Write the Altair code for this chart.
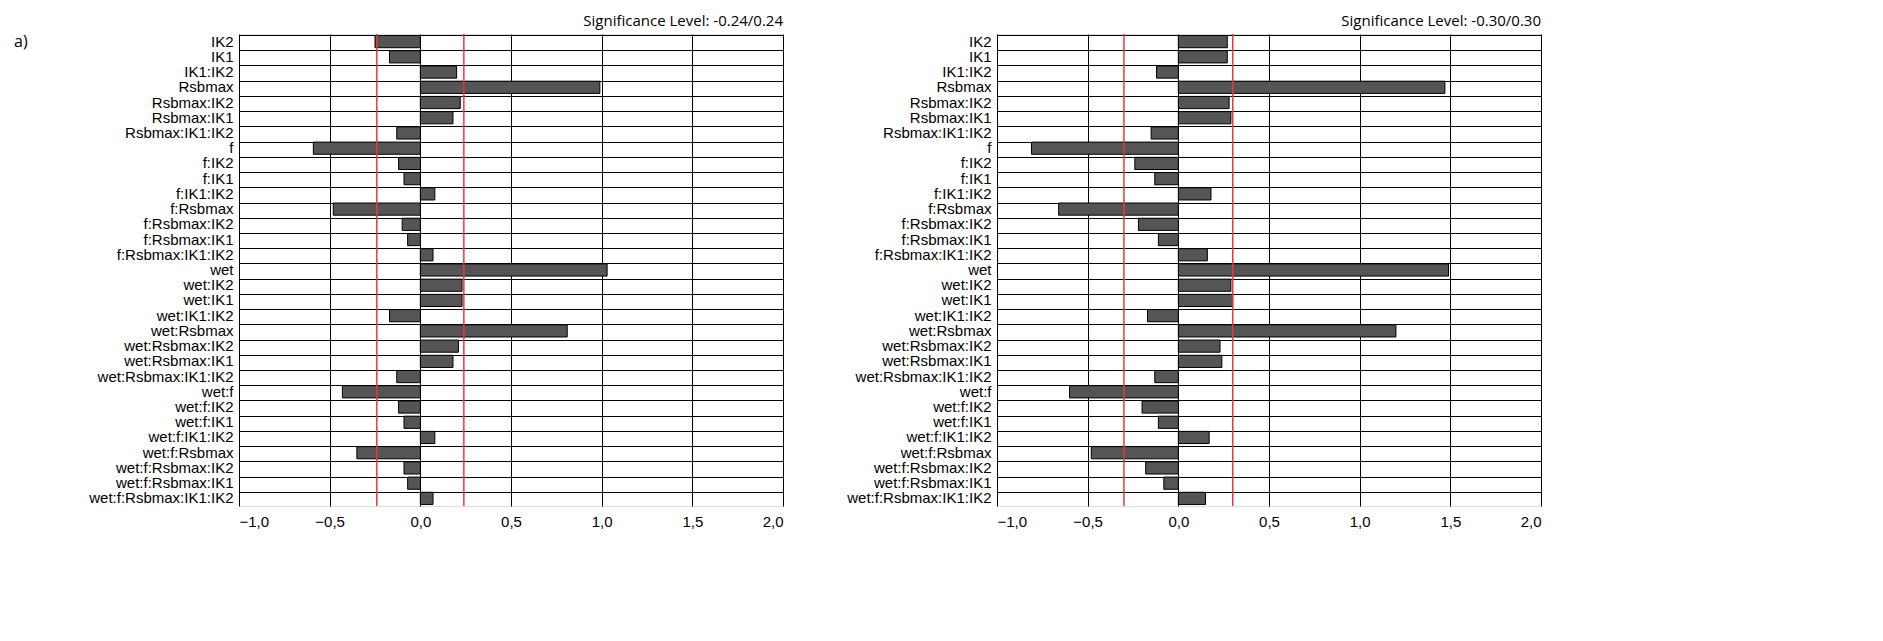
import altair as alt
import pandas as pd

terms = ["IK2", "IK1", "IK1:IK2", "Rsbmax", "Rsbmax:IK2", "Rsbmax:IK1", "Rsbmax:IK1:IK2",
         "f", "f:IK2", "f:IK1", "f:IK1:IK2", "f:Rsbmax", "f:Rsbmax:IK2", "f:Rsbmax:IK1",
         "f:Rsbmax:IK1:IK2", "wet", "wet:IK2", "wet:IK1", "wet:IK1:IK2", "wet:Rsbmax",
         "wet:Rsbmax:IK2", "wet:Rsbmax:IK1", "wet:Rsbmax:IK1:IK2", "wet:f", "wet:f:IK2",
         "wet:f:IK1", "wet:f:IK1:IK2", "wet:f:Rsbmax", "wet:f:Rsbmax:IK2", "wet:f:Rsbmax:IK1",
         "wet:f:Rsbmax:IK1:IK2"]

effects_a = [-0.25, -0.17, 0.20, 0.99, 0.22, 0.18, -0.13, -0.59, -0.12, -0.09, 0.08,
             -0.48, -0.10, -0.07, 0.07, 1.03, 0.23, 0.23, -0.17, 0.81, 0.21, 0.18,
             -0.13, -0.43, -0.12, -0.09, 0.08, -0.35, -0.09, -0.07, 0.07]
effects_b = [0.27, 0.27, -0.12, 1.47, 0.28, 0.29, -0.15, -0.81, -0.24, -0.13, 0.18,
             -0.66, -0.22, -0.11, 0.16, 1.49, 0.29, 0.30, -0.17, 1.20, 0.23, 0.24,
             -0.13, -0.60, -0.20, -0.11, 0.17, -0.48, -0.18, -0.08, 0.15]
sig_a = 0.24
sig_b = 0.30

FONT = "Open Sans"


def panel(values, sig, label=None):
    df = pd.DataFrame({"term": terms, "effect": values})
    base = alt.Chart(df)
    bars = base.mark_bar(color="#555555", stroke="black", strokeWidth=1).encode(
        x=alt.X("effect:Q", scale=alt.Scale(domain=[-1, 2], nice=False),
                axis=alt.Axis(values=[-1, -0.5, 0, 0.5, 1, 1.5, 2],
                              labelExpr="replace(format(datum.value, '.1f'), '.', ',')",
                              title=None, grid=True, gridColor="black", domain=False,
                              ticks=False, labelFontSize=15, labelPadding=8)),
        y=alt.Y("term:N", sort=terms,
                scale=alt.Scale(paddingInner=0.2, paddingOuter=0.1),
                axis=alt.Axis(title=None, grid=True, gridColor="black", bandPosition=0,
                              domain=False, ticks=False, labelFontSize=15,
                              labelPadding=6, labelColor="black")),
    )
    sdf = pd.DataFrame({"s": [-sig, sig]})
    rules = alt.Chart(sdf).mark_rule(color="#e8383d", strokeWidth=1.5).encode(x="s:Q")
    layers = [bars, rules]
    if label:
        layers.append(alt.Chart(pd.DataFrame({"t": [label]})).mark_text(
            fontSize=16, align="left", font=FONT, color="black").encode(
            text="t:N", x=alt.value(-225), y=alt.value(8)))
    title = alt.TitleParams(f"Significance Level: {-sig:.2f}/{sig:.2f}", anchor="end",
                            fontSize=15, fontWeight="normal", font=FONT, offset=4)
    return alt.layer(*layers).properties(width=544, height=472, title=title)


chart = alt.hconcat(panel(effects_a, sig_a, "a)"), panel(effects_b, sig_b), spacing=62).configure_view(
    stroke="black", strokeWidth=1.5
).configure_axis(labelFont=FONT, labelColor="black").configure(background="white")

chart.save("out.html", embed_options={"renderer": "svg", "actions": False})
